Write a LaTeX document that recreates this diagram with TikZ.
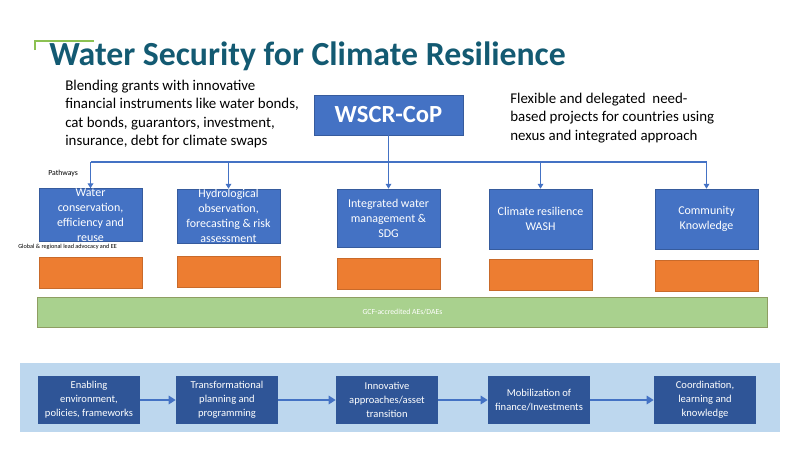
\documentclass[tikz,border=0pt]{standalone}
\usepackage{fontspec}
\setmainfont{Carlito}
\usetikzlibrary{arrows.meta}

\definecolor{titleteal}{HTML}{135A72}
\definecolor{accentgreen}{HTML}{8CC152}
\definecolor{boxblue}{HTML}{4472C4}
\definecolor{boxorange}{HTML}{ED7D31}
\definecolor{barfill}{HTML}{A9D18E}
\definecolor{barline}{HTML}{8E9E62}
\definecolor{panelblue}{HTML}{BDD7EE}
\definecolor{stepblue}{HTML}{2F5597}

\begin{document}
\begin{tikzpicture}[x=0.025cm, y=-0.025cm,
  pathbox/.style={fill=boxblue, draw=boxblue!80!black, text=white, align=center,
    minimum width=2.575cm, inner sep=0pt, font=\fontsize{8.5}{10.7}\selectfont},
  fundbox/.style={fill=boxorange, draw=boxorange!85!black, minimum width=2.575cm,
    minimum height=0.775cm, inner sep=0pt},
  stepbox/.style={fill=stepblue, text=white, align=center, minimum width=2.55cm,
    minimum height=1.2cm, inner sep=0pt, font=\fontsize{7.5}{10}\selectfont},
  feed/.style={boxblue, line width=1.1pt, -{Triangle[width=4pt,length=3.5pt]}},
  flow/.style={boxblue, line width=2pt, -{Triangle[width=6pt,length=5pt]}},
  note/.style={align=left, anchor=north west, inner sep=0pt, font=\fontsize{10.6}{13}\selectfont}]
  \useasboundingbox (0,0) rectangle (800,450);

  \draw[accentgreen, line width=1.6pt] (35,50) -- (35,41) -- (94,41);
  \node[anchor=base west, inner sep=0pt, text=titleteal, font=\fontsize{24}{26}\selectfont\bfseries] (title) at (49,65) {Water Security for Climate Resilience};

  \node[note] (blend) at (65,80) {Blending grants with innovative\\financial instruments like water bonds,\\cat bonds, guarantors, investment,\\insurance, debt for climate swaps};
  \node[note] (flex) at (510,93) {Flexible and delegated\ \ need-\\based projects for countries using\\nexus and integrated approach};

  \node[fill=boxblue, draw=boxblue!80!black, text=white, minimum width=3.725cm, minimum height=1cm, font=\fontsize{17.5}{19}\selectfont\bfseries] (cop) at (388.5,115) {WSCR-CoP};

  \node[pathbox, minimum height=1.3cm] (p1) at (90.5,215) {Water\\conservation,\\efficiency and\\reuse};
  \node[pathbox, minimum height=1.35cm] (p2) at (228.5,216) {Hydrological\\observation,\\forecasting \& risk\\assessment};
  \node[pathbox, minimum height=1.45cm] (p3) at (388.5,218) {Integrated water\\management \&\\SDG};
  \node[pathbox, minimum height=1.5cm] (p4) at (540.5,219) {Climate resilience\\WASH};
  \node[pathbox, minimum height=1.5cm] (p5) at (706.5,219) {Community\\Knowledge};

  \coordinate (bus) at (388.5,162);
  \draw[boxblue, line width=1.1pt] (cop.south) -- (bus);
  \draw[boxblue, line width=1.1pt] (p1.north |- bus) -- (p5.north |- bus);
  \foreach \p in {p1,p2,p3,p4,p5}
    \draw[feed] (\p.north |- bus) -- (\p.north);

  \node[anchor=west, inner sep=0pt, font=\fontsize{5.5}{6}\selectfont] (pathways) at (48,173) {Pathways};
  \node[anchor=west, inner sep=0pt, font=\fontsize{4.4}{5}\selectfont] (advocacy) at (18,247) {Global \& regional lead advocacy and EE};

  \node[fundbox] (f1) at (90.5,272.5) {};
  \node[fundbox] (f2) at (228.5,271.5) {};
  \node[fundbox] (f3) at (388.5,273.5) {};
  \node[fundbox] (f4) at (540.5,274.5) {};
  \node[fundbox] (f5) at (706.5,275.5) {};

  \node[fill=barfill, draw=barline, text=white, minimum width=18.25cm, minimum height=0.75cm, inner sep=0pt, font=\fontsize{5.5}{6}\selectfont] (gcf) at (402.5,312) {GCF-accredited AEs/DAEs};

  \node[fill=panelblue, minimum width=19cm, minimum height=1.725cm, inner sep=0pt] (panel) at (400,397.5) {};
  \node[stepbox] (s1) at (89,400) {Enabling\\environment,\\policies, frameworks};
  \node[stepbox] (s2) at (227,400) {Transformational\\planning and\\programming};
  \node[stepbox] (s3) at (387,400) {Innovative\\approaches/asset\\transition};
  \node[stepbox] (s4) at (539,400) {Mobilization of\\finance/Investments};
  \node[stepbox] (s5) at (705,400) {Coordination,\\learning and\\knowledge};
  \draw[flow] (s1) -- (s2);
  \draw[flow] (s2) -- (s3);
  \draw[flow] (s3) -- (s4);
  \draw[flow] (s4) -- (s5);
\end{tikzpicture}
\end{document}
